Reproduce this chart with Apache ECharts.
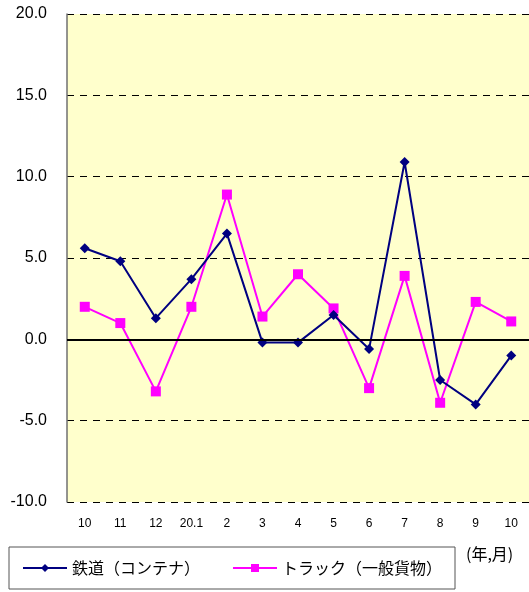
<!DOCTYPE html>
<html>
<head>
<meta charset="utf-8">
<script src="https://cdn.jsdelivr.net/npm/echarts@6/dist/echarts.min.js"></script>
<style>
  html, body { margin: 0; padding: 0; background: #ffffff; }
  #chart { width: 529px; height: 592px; }
</style>
</head>
<body>
<div id="chart"></div>
<script>
  // 月ラベル
  var months = ['10', '11', '12', '20.1', '2', '3', '4', '5', '6', '7', '8', '9', '10'];
  // 鉄道（コンテナ）
  var railData = [5.6, 4.8, 1.3, 3.7, 6.5, -0.2, -0.2, 1.5, -0.6, 10.9, -2.5, -4.0, -1.0];
  // トラック（一般貨物）
  var truckData = [2.0, 1.0, -3.2, 2.0, 8.9, 1.4, 4.0, 1.9, -3.0, 3.9, -3.9, 2.3, 1.1];

  var chart = echarts.init(document.getElementById('chart'));

  chart.setOption({
    backgroundColor: '#ffffff',
    animation: false,
    grid: {
      left: 67,
      right: -2,
      top: 14,
      bottom: 90,
      show: true,
      backgroundColor: '#ffffcc',
      borderWidth: 0
    },
    legend: {
      left: 9,
      top: 547,
      padding: [13, 13, 13, 13],
      borderColor: '#555555',
      borderWidth: 1,
      itemWidth: 44,
      itemHeight: 10,
      itemGap: 32,
      textStyle: {
        fontFamily: 'Noto Sans CJK JP',
        fontSize: 16,
        color: '#000000'
      },
      data: ['鉄道（コンテナ）', 'トラック（一般貨物）']
    },
    graphic: [{
      type: 'text',
      left: 466,
      top: 546,
      style: {
        text: '(年,月)',
        fontFamily: 'Noto Sans CJK JP',
        fontSize: 16,
        fill: '#000000'
      }
    }],
    xAxis: {
      type: 'category',
      data: months,
      boundaryGap: true,
      axisLine: { show: false },
      axisTick: { show: false },
      axisLabel: {
        margin: 16,
        fontFamily: 'Liberation Sans',
        fontSize: 12,
        color: '#000000'
      }
    },
    yAxis: {
      type: 'value',
      min: -10,
      max: 20,
      interval: 5,
      axisLine: { show: true, lineStyle: { color: '#707070', width: 1.5 } },
      axisTick: { show: false },
      axisLabel: {
        margin: 20,
        fontFamily: 'Liberation Sans',
        fontSize: 16,
        color: '#000000',
        formatter: function (v) { return v.toFixed(1); }
      },
      splitLine: {
        show: true,
        lineStyle: { color: '#000000', type: [7, 6], width: 1 }
      }
    },
    series: [
      {
        name: '鉄道（コンテナ）',
        type: 'line',
        data: railData,
        symbol: 'diamond',
        symbolSize: 10,
        itemStyle: { color: '#000080' },
        lineStyle: { color: '#000080', width: 2 },
        z: 3,
        markLine: {
          silent: true,
          symbol: 'none',
          label: { show: false },
          lineStyle: { color: '#000000', type: 'solid', width: 2 },
          data: [{ yAxis: 0 }]
        }
      },
      {
        name: 'トラック（一般貨物）',
        type: 'line',
        data: truckData,
        symbol: 'rect',
        symbolSize: 10,
        itemStyle: { color: '#ff00ff' },
        lineStyle: { color: '#ff00ff', width: 2 },
        z: 2
      }
    ]
  });
</script>
</body>
</html>
